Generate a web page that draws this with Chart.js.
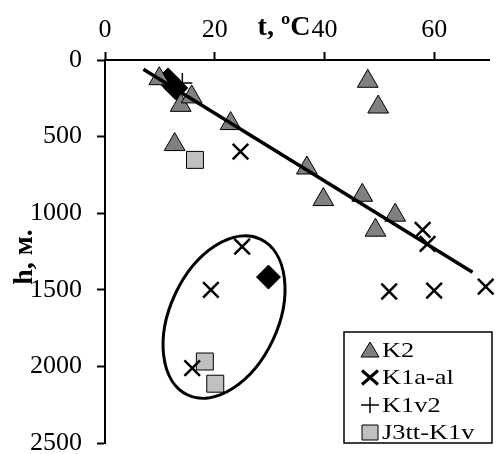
<!DOCTYPE html>
<html>
<head>
<meta charset="utf-8">
<script src="https://cdn.jsdelivr.net/npm/chart.js@4.4.1/dist/chart.umd.min.js"></script>
<style>
  body { margin: 0; background: #fff; }
  #wrap { width: 496px; height: 454px; }
</style>
</head>
<body>
<div id="wrap"><canvas id="c" width="496" height="454"></canvas></div>
<script>
// temperature t (ºC) vs depth h (m)
const k2T = [9.9, 13.8, 15.8, 22.9, 12.7, 47.9, 49.8, 36.8, 39.8, 46.9, 52.9, 49.3];
const k2H = [122, 296, 241, 415, 552, 139, 307, 705, 911, 883, 1013, 1111];
const k1aT = [24.7, 57.9, 58.8, 51.8, 60.0, 69.4, 25.0, 19.3, 15.9];
const k1aH = [598, 1109, 1200, 1511, 1505, 1479, 1218, 1500, 2011];
const k1vT = [14.1];
const k1vH = [150];
const j3T = [16.4, 18.2, 20.1];
const j3H = [652, 1968, 2113];
const diaT = [11.5, 12.9, 29.8];
const diaH = [130, 183, 1417];
const trendT = [7, 67];
const trendH = [61, 1385];
const ovalT = [21.7];
const ovalH = [1678];
const xTicks = [0, 20, 40, 60];
const yTicks = [0, 500, 1000, 1500, 2000, 2500];
const legendLabels = ['K2', 'K1a-al', 'K1v2', 'J3tt-K1v'];

const SERIF = '"Liberation Serif", "Times New Roman", serif';
const pts = (t, h) => t.map((v, i) => ({x: v, y: h[i]}));

// ellipse around the deep group
const ovalPlugin = {
  id: 'oval',
  afterDatasetsDraw(chart) {
    const {ctx, scales} = chart;
    const cx = scales.x.getPixelForValue(ovalT[0]), cy = scales.y.getPixelForValue(ovalH[0]);
    ctx.save();
    ctx.beginPath();
    ctx.ellipse(cx, cy, 86, 54, -65 * Math.PI / 180, 0, Math.PI * 2);
    ctx.lineWidth = 3; ctx.strokeStyle = '#000';
    ctx.stroke();
    ctx.restore();
  }
};

function legendMarker(ctx, i, x, y) {
  ctx.save();
  ctx.strokeStyle = '#000';
  ctx.beginPath();
  if (i === 0) {
    ctx.moveTo(x, y - 8); ctx.lineTo(x + 9, y + 7); ctx.lineTo(x - 9, y + 7); ctx.closePath();
    ctx.fillStyle = '#808080'; ctx.fill(); ctx.lineWidth = 1; ctx.stroke();
  } else if (i === 1) {
    ctx.moveTo(x - 8, y - 7); ctx.lineTo(x + 8, y + 7); ctx.moveTo(x + 8, y - 7); ctx.lineTo(x - 8, y + 7);
    ctx.lineWidth = 3; ctx.stroke();
  } else if (i === 2) {
    ctx.moveTo(x - 9, y); ctx.lineTo(x + 9, y); ctx.moveTo(x, y - 8); ctx.lineTo(x, y + 8);
    ctx.lineWidth = 1.5; ctx.stroke();
  } else {
    ctx.rect(x - 8, y - 7.5, 16, 15);
    ctx.fillStyle = '#c0c0c0'; ctx.fill(); ctx.lineWidth = 1; ctx.stroke();
  }
  ctx.restore();
}

const decorPlugin = {
  id: 'decor',
  afterDraw(chart) {
    const {ctx, chartArea} = chart;
    ctx.save();
    // axis titles
    ctx.fillStyle = '#000';
    ctx.font = 'bold 28px ' + SERIF;
    ctx.textAlign = 'center'; ctx.textBaseline = 'alphabetic';
    ctx.fillText('t, ºC', 284, 35);
    ctx.translate(32, 257); ctx.rotate(-Math.PI / 2);
    ctx.fillText('h, м.', 0, 0);
    ctx.restore();

    // legend box
    const bx = chartArea.right - 145, by = chartArea.bottom - 111;
    ctx.save();
    ctx.fillStyle = '#fff'; ctx.strokeStyle = '#000'; ctx.lineWidth = 1.5;
    ctx.fillRect(bx, by, 148, 111);
    ctx.strokeRect(bx, by, 148, 111);
    legendLabels.forEach((lab, i) => {
      const y = by + 18 + i * 27.5;
      legendMarker(ctx, i, bx + 26, y);
      ctx.save();
      ctx.translate(bx + 38, y); ctx.scale(1.2, 1);
      ctx.fillStyle = '#000'; ctx.font = '22px ' + SERIF;
      ctx.textAlign = 'left'; ctx.textBaseline = 'middle';
      ctx.fillText(lab, 0, 1);
      ctx.restore();
    });
    ctx.restore();
  }
};

const axisGrid = { display: true, drawOnChartArea: false, drawTicks: true, tickLength: 8, tickColor: '#000', tickWidth: 2 };
const axisBorder = { display: true, color: '#000', width: 2 };

new Chart(document.getElementById('c'), {
  type: 'scatter',
  data: {
    datasets: [
      { label: 'trend', data: pts(trendT, trendH), showLine: true, borderColor: '#000', borderWidth: 3.5, pointRadius: 0, fill: false, clip: false },
      { label: 'K2', data: pts(k2T, k2H), pointStyle: 'triangle', pointRadius: 12, backgroundColor: '#808080', borderColor: '#000', borderWidth: 1, clip: false },
      { label: 'K1a-al', data: pts(k1aT, k1aH), pointStyle: 'crossRot', pointRadius: 11, borderColor: '#000', borderWidth: 2.5, clip: false },
      { label: 'K1v2', data: pts(k1vT, k1vH), pointStyle: 'cross', pointRadius: 10, borderColor: '#000', borderWidth: 1.5, clip: false },
      { label: 'J3tt-K1v', data: pts(j3T, j3H), pointStyle: 'rect', pointRadius: 12, backgroundColor: '#c0c0c0', borderColor: '#000', borderWidth: 1, clip: false },
      { label: 'other', data: pts(diaT, diaH), pointStyle: 'rectRot', pointRadius: 12, backgroundColor: '#000', borderColor: '#000', borderWidth: 1, clip: false }
    ]
  },
  options: {
    responsive: false,
    animation: false,
    layout: { autoPadding: false, padding: { left: 0, top: 0, right: 7, bottom: 11 } },
    plugins: { legend: { display: false }, tooltip: { enabled: false } },
    scales: {
      x: {
        type: 'linear', position: 'top', min: 0, max: 70,
        afterBuildTicks: s => { s.ticks = xTicks.map(v => ({value: v})); },
        afterFit: s => { s.height = 60; s.paddingLeft = 0; s.paddingRight = 0; },
        grid: axisGrid, border: axisBorder,
        ticks: { color: '#000', padding: 6, maxRotation: 0, font: { family: SERIF, size: 26 }, callback: v => String(v) }
      },
      y: {
        type: 'linear', reverse: true, min: 0, max: 2500,
        afterBuildTicks: s => { s.ticks = yTicks.map(v => ({value: v})); },
        afterFit: s => { s.width = 105; s.paddingTop = 0; s.paddingBottom = 0; },
        grid: axisGrid, border: axisBorder,
        ticks: { color: '#000', padding: 15, font: { family: SERIF, size: 26 }, callback: v => String(v) }
      }
    }
  },
  plugins: [ovalPlugin, decorPlugin]
});
</script>
</body>
</html>
